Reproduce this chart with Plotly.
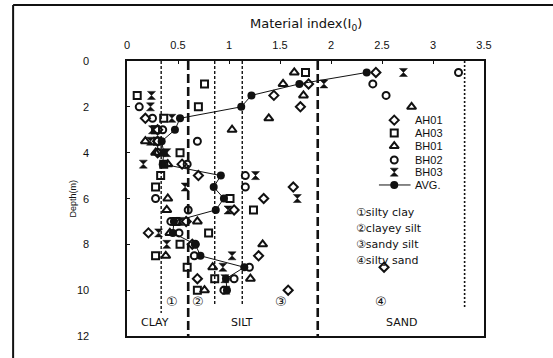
import plotly.graph_objects as go

# Sampling depths (m) shared by every borehole series
depth = [0.5, 1.0, 1.5, 2.0, 2.5, 3.0, 3.5, 4.0, 4.5, 5.0,
         5.5, 6.0, 6.5, 7.0, 7.5, 8.0, 8.5, 9.0, 9.5, 10.0]

# Material index I0 for each borehole
ah01 = [2.44, 1.78, 1.44, 1.70, 0.18, 0.30, 0.30, 0.30, 0.54, 0.70,
        1.63, 1.34, 1.05, 0.58, 0.21, 0.64, 1.29, 2.52, 0.69, 1.58]
ah03 = [1.75, 0.76, 0.10, 0.70, 0.36, 0.28, 0.30, 0.52, 0.36, 0.33,
        0.28, 1.01, 1.24, 0.48, 0.80, 0.52, 0.28, 0.59, 0.86, 0.69]
bh01 = [1.64, 1.53, 1.73, 2.79, 1.39, 1.03, 0.18, 0.28, 0.40, None,
        None, 0.40, 0.39, 0.69, 0.42, 1.33, 0.38, 0.84, 1.21, 0.76]
bh02 = [3.25, 2.41, 2.54, 0.12, 0.25, 0.35, 0.69, 0.31, 0.59, 1.16,
        1.16, 0.28, 0.60, 0.43, 0.51, 0.67, 0.66, 1.20, 1.05, 0.95]
bh03 = [2.71, 1.93, 0.24, 0.23, 0.44, 0.25, 0.23, 0.39, 0.16, 1.26,
        0.57, 1.67, 0.99, 0.52, 0.31, 0.39, 1.03, 0.94, 0.96, 0.97]
avg = [2.35, 1.69, 1.22, 1.12, 0.52, 0.47, 0.34, 0.36, 0.35, 0.92,
       0.85, 0.95, 0.87, 0.46, 0.45, 0.67, 0.72, 1.15, 0.97, 0.98]

series_names = ["AH01", "AH03", "BH01", "BH02", "BH03", "AVG."]

x_tickvals = [0, 0.5, 1, 1.5, 2, 2.5, 3, 3.5]
x_ticktext = ["0", "0.5", "1", "1.5", "2", "2.5", "3", "3.5"]
y_tickvals = [0, 2, 4, 6, 8, 10, 12]

# Soil classification boundaries on the I0 scale
boundaries = [0.335, 0.6, 0.86, 1.13, 1.87, 3.31]
boundary_kind = ["fine", "major", "fine", "fine", "major", "dot"]
boundary_bottom = [11.0, 12.0, 10.6, 10.6, 12.0, 10.8]

zone_names = ["CLAY", "SILT", "SAND"]
subzone_marks = ["①", "②", "③", "④"]
subzone_names = ["①silty clay", "②clayey silt", "③sandy silt", "④silty sand"]

FONT = "Liberation Sans, Arial, sans-serif"
WIDE = "DejaVu Sans, sans-serif"
BLACK = "#111111"

symbols = ["diamond-open", "square-open", "triangle-up-open", "circle-open", "hourglass"]
sizes = [7, 7, 8, 7, 8]

fig = go.Figure()

# Scattered borehole measurements
for name, vals, sym, sz in zip(series_names[:5], [ah01, ah03, bh01, bh02, bh03], symbols, sizes):
    fig.add_trace(go.Scatter(
        x=vals, y=depth, mode="markers", name=name, showlegend=False,
        marker=dict(symbol=sym, size=sz, color=BLACK,
                    line=dict(color=BLACK, width=2 if "open" in sym else 0.5)),
    ))

# Average profile
fig.add_trace(go.Scatter(
    x=avg, y=depth, mode="lines+markers", name=series_names[5], showlegend=False,
    line=dict(color=BLACK, width=1),
    marker=dict(symbol="circle", size=8, color=BLACK),
))

# Boundary lines
dash_style = {"fine": "3px,2px", "major": "9px,4px", "dot": "2px,2px"}
width_style = {"fine": 1.4, "major": 2.6, "dot": 1.6}
for bx, kind, bottom in zip(boundaries, boundary_kind, boundary_bottom):
    fig.add_shape(type="line", xref="x", yref="y", x0=bx, x1=bx, y0=0, y1=bottom,
                  line=dict(color=BLACK, width=width_style[kind], dash=dash_style[kind]))

# Manual legend inside the plot area
leg_x, leg_text_x = 2.62, 2.80
leg_rows = [2.58, 3.14, 3.71, 4.32, 4.85, 5.41]
for i, name in enumerate(series_names):
    if i < 5:
        fig.add_trace(go.Scatter(
            x=[leg_x], y=[leg_rows[i]], mode="markers", showlegend=False, hoverinfo="skip",
            marker=dict(symbol=symbols[i], size=sizes[i], color=BLACK,
                        line=dict(color=BLACK, width=2 if "open" in symbols[i] else 0.5)),
        ))
    else:
        fig.add_trace(go.Scatter(
            x=[2.47, leg_x, 2.78], y=[leg_rows[i]] * 3, mode="lines", showlegend=False,
            hoverinfo="skip", line=dict(color=BLACK, width=1),
        ))
        fig.add_trace(go.Scatter(
            x=[leg_x], y=[leg_rows[i]], mode="markers", showlegend=False, hoverinfo="skip",
            marker=dict(symbol="circle", size=8, color=BLACK),
        ))
    fig.add_annotation(x=leg_text_x, y=leg_rows[i], xref="x", yref="y", text=name,
                       showarrow=False, xanchor="left", yanchor="middle",
                       font=dict(family=FONT, size=11, color=BLACK))

# Sub-zone key
for i, txt in enumerate(subzone_names):
    fig.add_annotation(x=2.23, y=6.59 + 0.70 * i, xref="x", yref="y", text=txt,
                       showarrow=False, xanchor="left", yanchor="middle",
                       font=dict(family=WIDE, size=11, color=BLACK))

# Zone numbers and names along the bottom
for txt, zx in zip(subzone_marks, [0.44, 0.70, 1.51, 2.49]):
    fig.add_annotation(x=zx, y=10.5, xref="x", yref="y", text=txt, showarrow=False,
                       font=dict(family=WIDE, size=13, color=BLACK))
for txt, zx in zip(zone_names, [0.27, 1.13, 2.69]):
    fig.add_annotation(x=zx, y=11.4, xref="x", yref="y", text=txt, showarrow=False,
                       font=dict(family=WIDE, size=11, color=BLACK))

# Depth tick labels, set a little away from the left axis
for v in y_tickvals:
    fig.add_annotation(x=-0.10, y=v, xref="paper", yref="y", text=str(v), showarrow=False,
                       xanchor="right", yanchor="middle",
                       font=dict(family=FONT, size=11, color=BLACK))

# Axis titles
fig.add_annotation(x=0.5, y=1.131, xref="paper", yref="paper",
                   text="Material index(I<sub>0</sub>)", showarrow=False,
                   xanchor="center", yanchor="middle",
                   font=dict(family=WIDE, size=13, color=BLACK))
fig.add_annotation(x=-0.154, y=0.5, xref="paper", yref="paper", text="Depth(m)",
                   textangle=-90, showarrow=False, xanchor="center", yanchor="middle",
                   font=dict(family=FONT, size=9, color=BLACK))

# Outer frame (top and left edges)
fig.add_shape(type="line", xref="paper", yref="paper", x0=-0.319, x1=1.25, y0=1.204, y1=1.204,
              line=dict(color=BLACK, width=2))
fig.add_shape(type="line", xref="paper", yref="paper", x0=-0.319, x1=-0.319, y0=1.204, y1=-0.12,
              line=dict(color=BLACK, width=2))

fig.update_xaxes(range=[0, 3.5], side="top", tickvals=x_tickvals, ticktext=x_ticktext,
                 showgrid=False, zeroline=False, showline=True, mirror=True,
                 linecolor=BLACK, linewidth=1.5, ticks="inside", ticklen=3,
                 tickcolor=BLACK, ticklabelstandoff=6,
                 tickfont=dict(family=FONT, size=11, color=BLACK))
fig.update_yaxes(range=[12, 0], tickvals=y_tickvals, showticklabels=False,
                 showgrid=False, zeroline=False,
                 showline=True, mirror=True, linecolor=BLACK, linewidth=1.5,
                 ticks="inside", ticklen=3, tickcolor=BLACK)

fig.update_layout(width=553, height=358, margin=dict(l=127, r=69, t=61, b=22),
                  paper_bgcolor="white", plot_bgcolor="white", showlegend=False)

fig.write_html("out.html")
